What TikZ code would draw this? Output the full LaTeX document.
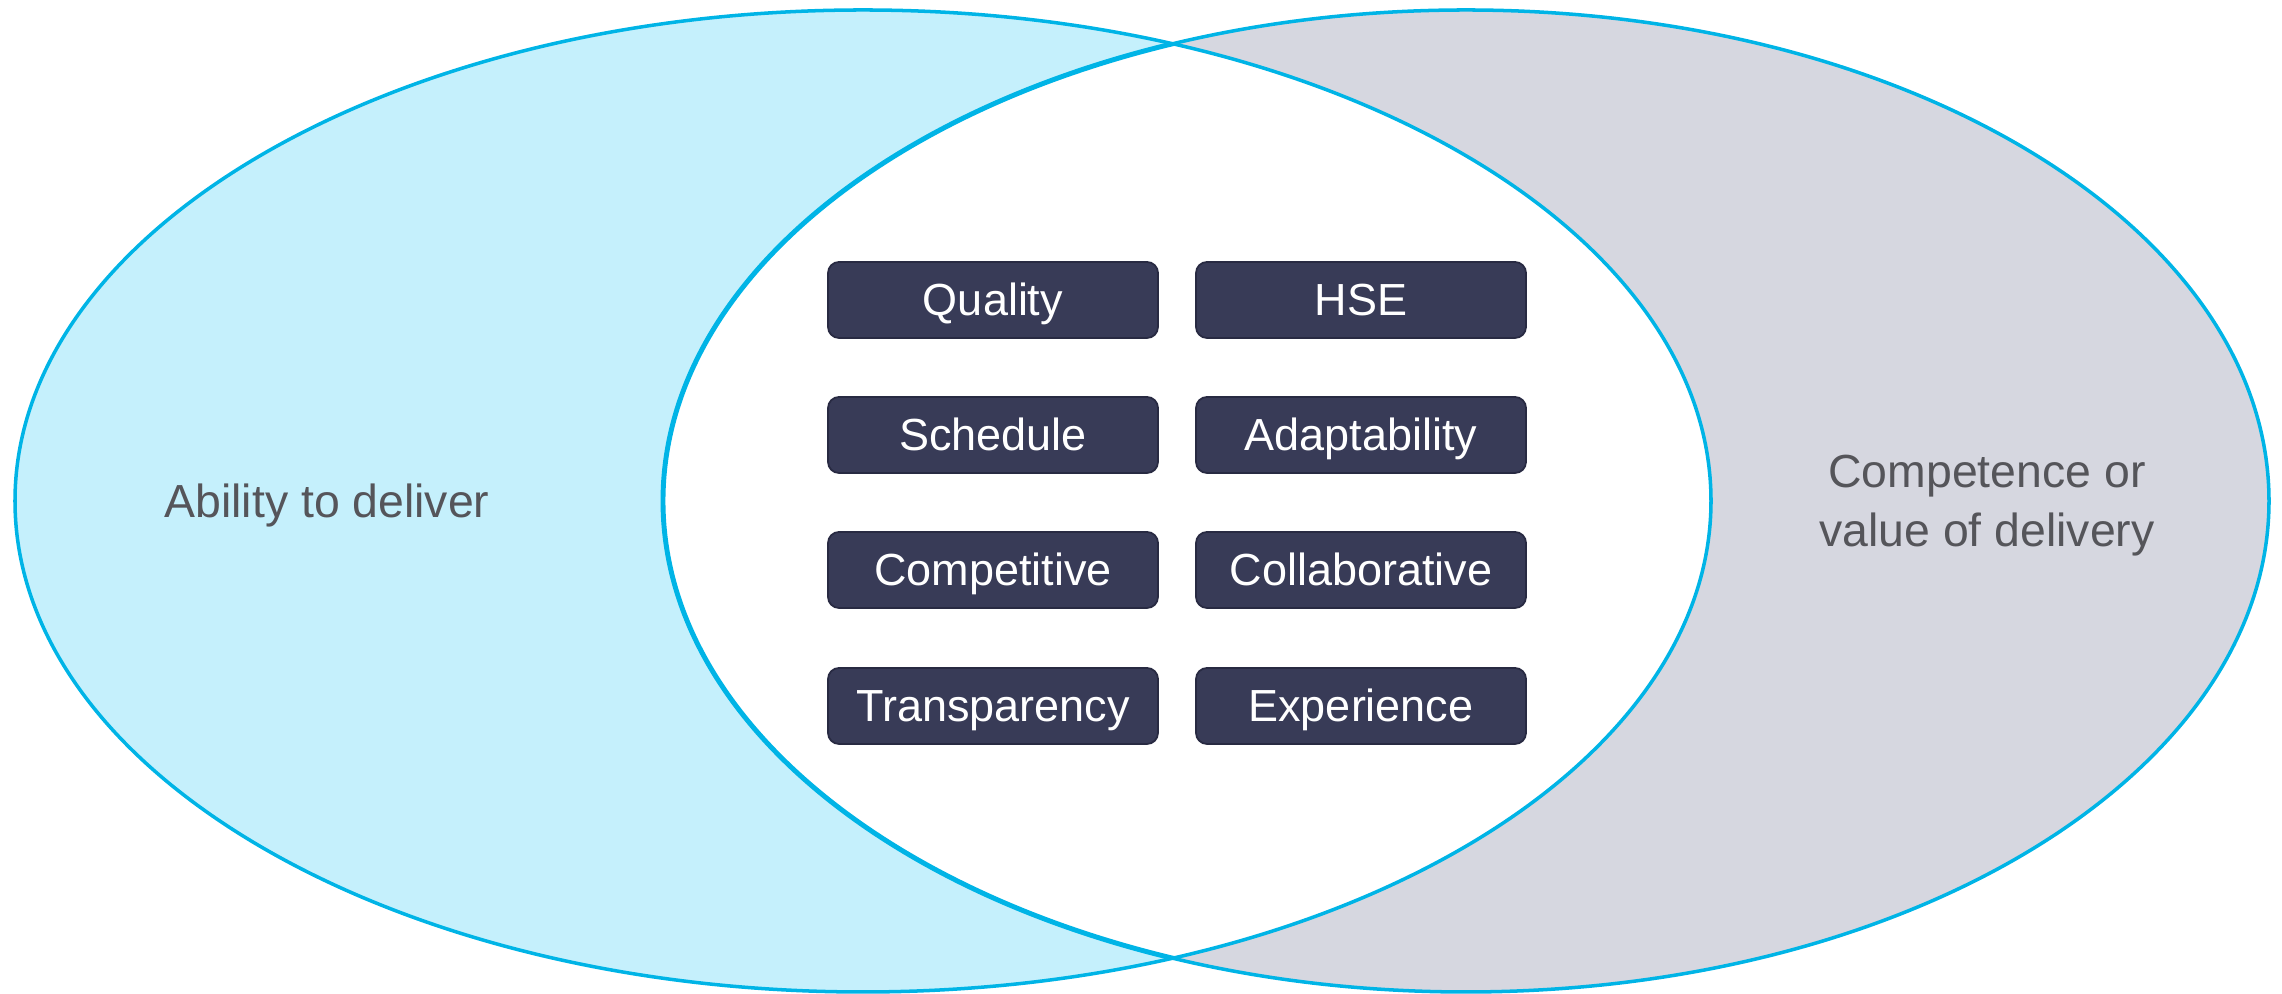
\documentclass[tikz,border=0pt]{standalone}
\usepackage{fontspec}
\setmainfont{Liberation Sans}
\usetikzlibrary{positioning}

\begin{document}
\begin{tikzpicture}[
    box/.style={
    	draw=boxline,
    	fill=boxfill,
    	text=white,
    	line width=0.5pt,
    	rounded corners=0.11cm,
    	minimum width=3.3cm,
    	minimum height=0.76cm,
    	inner sep=0pt,
    	text height=0.32cm,
    	text depth=0pt,
    	align=center,
    	anchor=center,
    	font=\fontsize{12.8}{15}\selectfont
    },
    sidetext/.style={
    	text=sidegray,
    	align=center,
    	anchor=center,
    	font=\fontsize{13.2}{16.8}\selectfont
    },
    ring/.style={
    	draw=ringline,
    	line width=1pt
    }]
    \definecolor{leftfill}{RGB}{197, 240, 252}
    \definecolor{rightfill}{RGB}{214, 215, 224}
    \definecolor{ringline}{RGB}{0, 180, 230}
    \definecolor{boxfill}{RGB}{56, 59, 87}
    \definecolor{boxline}{RGB}{40, 42, 66}
    \definecolor{sidegray}{RGB}{85, 85, 90}

    \useasboundingbox (0,0) rectangle (22.82,9.94);

    % the two sets
    \fill[leftfill] (8.63,4.93) ellipse [x radius=8.48, y radius=4.91];
    \fill[rightfill] (14.66,4.93) ellipse [x radius=8.03, y radius=4.91];
    \begin{scope}
        \clip (8.63,4.93) ellipse [x radius=8.48, y radius=4.91];
        \fill[white] (14.66,4.93) ellipse [x radius=8.03, y radius=4.91];
        \draw[ring, line width=1.4pt] (14.66,4.93) ellipse [x radius=8.03, y radius=4.91];
    \end{scope}
    \draw[ring] (8.63,4.93) ellipse [x radius=8.48, y radius=4.91];
    \draw[ring] (14.66,4.93) ellipse [x radius=8.03, y radius=4.91];

    \node[sidetext] (ability) at (3.27,4.88) {Ability to deliver};
    \node[sidetext] (competence) at (19.87,4.88) {Competence or\\value of delivery};

    \node[box] (attr1) at (9.93,6.94) {Quality};
    \node[box] (attr2) at (13.61,6.94) {HSE};
    \node[box] (attr3) at (9.93,5.59) {Schedule};
    \node[box] (attr4) at (13.61,5.59) {Adaptability};
    \node[box] (attr5) at (9.93,4.24) {Competitive};
    \node[box] (attr6) at (13.61,4.24) {Collaborative};
    \node[box] (attr7) at (9.93,2.88) {Transparency};
    \node[box] (attr8) at (13.61,2.88) {Experience};

\end{tikzpicture}
\end{document}
